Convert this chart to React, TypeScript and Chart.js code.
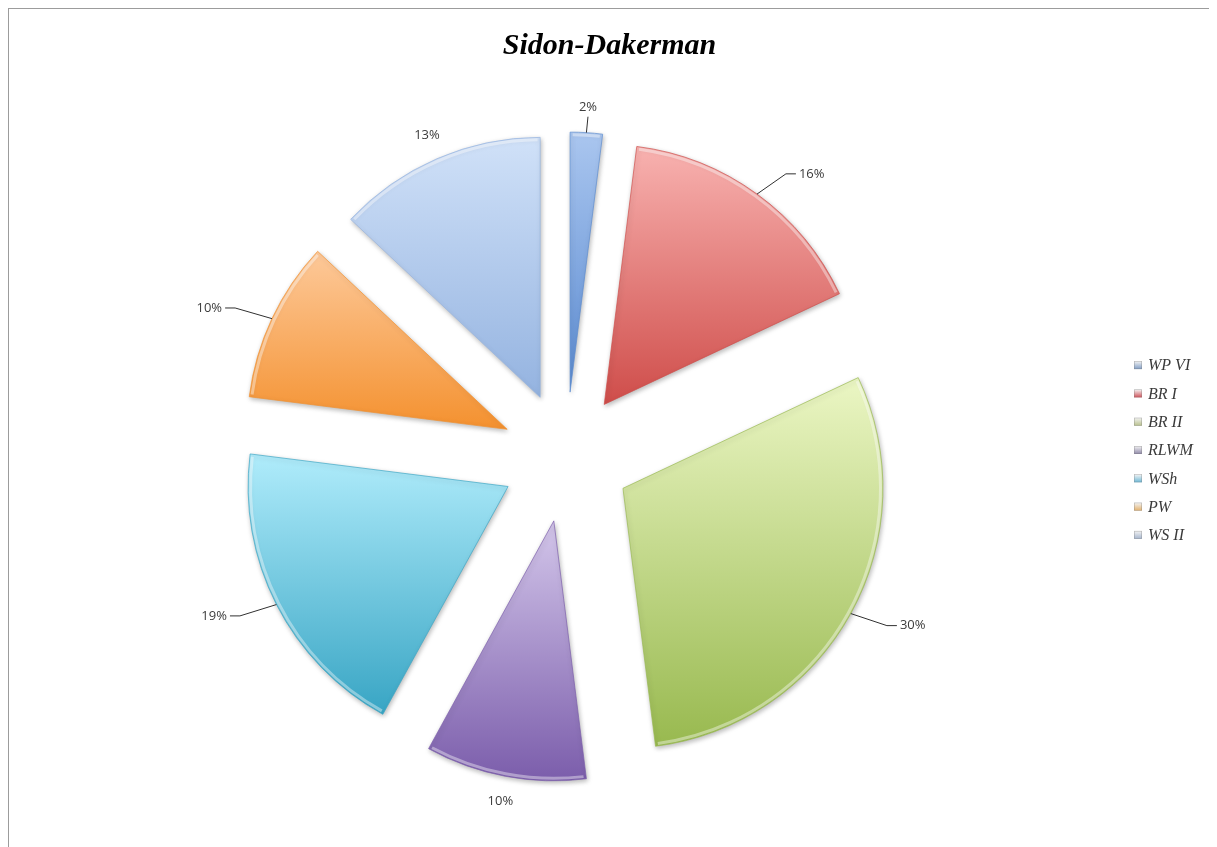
import React, { useEffect, useRef } from 'react';
import { Chart, registerables, layouts } from 'chart.js';

Chart.register(...registerables);

// ---- data ----
const chartTitle = 'Sidon-Dakerman';
const categories = ['WP VI', 'BR I', 'BR II', 'RLWM', 'WSh', 'PW', 'WS II'];
const shares = [2, 16, 30, 10, 19, 10, 13];

// ---- styles ----
const lightColors = ['#aac6ef', '#f8b2b0', '#ebf6c4', '#d3c6ea', '#b0ecfb', '#fdc99a', '#d0e1f8'];
const darkColors = ['#5b8bd1', '#cf4d4a', '#98b94f', '#7b5dab', '#38a5c4', '#f4912f', '#94b3e0'];
const legendBase = ['#7f9cc4', '#d0525a', '#b8c08c', '#8e88a8', '#6cb8d6', '#e2b06c', '#a4b4cc'];

const RADIUS = 260;
const EXPLODE = 65;
const LABEL_GAP = 25;
const SIDE_SHIFT = 40;
const LEGEND_WIDTH = 87;

function sliceGradient(chart: any, i: number) {
  const area = chart.chartArea;
  if (!area || i === undefined || i === null) return darkColors[0];
  const cy = (area.top + area.bottom) / 2;
  const total = shares.reduce((a, b) => a + b, 0);
  let acc = 0;
  for (let k = 0; k < i; k++) acc += shares[k];
  const a0 = -Math.PI / 2 + (acc / total) * 2 * Math.PI;
  const a1 = a0 + (shares[i] / total) * 2 * Math.PI;
  const ys = [cy, cy + Math.sin(a0) * RADIUS, cy + Math.sin(a1) * RADIUS];
  for (const t of [-Math.PI / 2, Math.PI / 2, (3 * Math.PI) / 2]) {
    if (t > a0 && t < a1) ys.push(cy + Math.sin(t) * RADIUS);
  }
  const g = chart.ctx.createLinearGradient(0, Math.min(...ys), 0, Math.max(...ys));
  g.addColorStop(0, lightColors[i]);
  g.addColorStop(1, darkColors[i]);
  return g;
}

// thin frame round the chart (top and left edges visible, like the source)
const framePlugin = {
  id: 'frame',
  afterDraw(chart: any) {
    const ctx = chart.ctx;
    ctx.save();
    ctx.strokeStyle = '#9c9c9c';
    ctx.lineWidth = 2;
    ctx.beginPath();
    ctx.moveTo(1, chart.height);
    ctx.lineTo(1, 1);
    ctx.lineTo(chart.width - 1, 1);
    ctx.stroke();
    ctx.strokeStyle = '#e6e6e6';
    ctx.lineWidth = 1;
    ctx.beginPath();
    ctx.moveTo(chart.width - 0.5, 2);
    ctx.lineTo(chart.width - 0.5, chart.height);
    ctx.stroke();
    ctx.restore();
  },
};

// reserve a column on the right for the legend, as a real layout box
const legendSpacePlugin = {
  id: 'legendSpace',
  beforeInit(chart: any) {
    const box: any = {
      position: 'right',
      weight: 0,
      fullSize: false,
      options: {},
      top: 0,
      left: 0,
      right: 0,
      bottom: 0,
      width: 0,
      height: 0,
      isHorizontal() {
        return false;
      },
      update(_maxWidth: number, maxHeight: number) {
        this.width = LEGEND_WIDTH;
        this.height = maxHeight;
      },
      draw() {},
    };
    layouts.addBox(chart, box);
  },
};

const explodePlugin = {
  id: 'explodePie',
  beforeDatasetsDraw(chart: any) {
    const ctx = chart.ctx;
    const meta = chart.getDatasetMeta(0);
    meta.data.forEach((arc: any) => {
      const mid = (arc.startAngle + arc.endAngle) / 2;
      ctx.save();
      ctx.translate(Math.cos(mid) * EXPLODE, Math.sin(mid) * EXPLODE);
      ctx.shadowColor = 'rgba(0,0,0,0.28)';
      ctx.shadowBlur = 5;
      ctx.shadowOffsetX = 1;
      ctx.shadowOffsetY = 2;
      arc.draw(ctx, chart.chartArea);
      ctx.shadowColor = 'transparent';
      // soft highlight along the outer rim
      ctx.beginPath();
      ctx.arc(arc.x, arc.y, RADIUS - 2.5, arc.startAngle + 0.01, arc.endAngle - 0.01);
      ctx.strokeStyle = 'rgba(255,255,255,0.4)';
      ctx.lineWidth = 3;
      ctx.stroke();
      ctx.restore();
    });
    return false;
  },
};

const labelPlugin = {
  id: 'pctLabels',
  afterDraw(chart: any) {
    const ctx = chart.ctx;
    const meta = chart.getDatasetMeta(0);
    ctx.save();
    ctx.font = '13px "Open Sans", "Liberation Sans", sans-serif';
    ctx.fillStyle = '#3c3c3c';
    ctx.strokeStyle = '#303030';
    ctx.lineWidth = 1;
    ctx.textAlign = 'center';
    ctx.textBaseline = 'middle';
    const total = shares.reduce((a, b) => a + b, 0);
    meta.data.forEach((arc: any, i: number) => {
      const mid = (arc.startAngle + arc.endAngle) / 2;
      const dx = Math.cos(mid);
      const dy = Math.sin(mid);
      const rOut = RADIUS + EXPLODE;
      const ox = arc.x + dx * rOut;
      const oy = arc.y + dy * rOut;
      let lx = arc.x + dx * (rOut + LABEL_GAP);
      const ly = arc.y + dy * (rOut + LABEL_GAP);
      const text = shares[i] + '%';
      const w = ctx.measureText(text).width;
      const side = Math.abs(dx) > 0.5;
      if (side) {
        const s = Math.sign(dx);
        lx += s * SIDE_SHIFT;
        const ex = lx - s * (w / 2 + 3);
        ctx.beginPath();
        ctx.moveTo(ox, oy);
        ctx.lineTo(ex - s * 10, ly);
        ctx.lineTo(ex, ly);
        ctx.stroke();
      } else if (shares[i] / total < 0.05) {
        ctx.beginPath();
        ctx.moveTo(ox, oy);
        ctx.lineTo(lx, ly + 9);
        ctx.stroke();
      }
      ctx.fillText(text, lx, ly);
    });
    ctx.restore();
  },
};

const legendPlugin = {
  id: 'sideLegend',
  afterDraw(chart: any) {
    const ctx = chart.ctx;
    const area = chart.chartArea;
    const boxX = area.right + 9;
    const textX = boxX + 14;
    const step = 28.3;
    const cy = (area.top + area.bottom) / 2 - 7;
    const y0 = cy - (step * (categories.length - 1)) / 2;
    ctx.save();
    ctx.font = 'italic 16px "Liberation Serif", "Times New Roman", serif';
    ctx.textAlign = 'left';
    ctx.textBaseline = 'middle';
    categories.forEach((name, i) => {
      const y = y0 + i * step;
      const g = ctx.createLinearGradient(0, y - 4, 0, y + 4);
      g.addColorStop(0, '#f4f4f4');
      g.addColorStop(1, legendBase[i]);
      ctx.fillStyle = g;
      ctx.fillRect(boxX, y - 4, 8, 8);
      ctx.strokeStyle = 'rgba(120,120,120,0.5)';
      ctx.lineWidth = 0.6;
      ctx.strokeRect(boxX + 0.3, y - 3.7, 7.4, 7.4);
      ctx.fillStyle = '#3a3a3a';
      ctx.fillText(name, textX, y + 1);
    });
    ctx.restore();
  },
};

export default function App() {
  const canvasRef = useRef<HTMLCanvasElement | null>(null);

  useEffect(() => {
    const prevOverflow = document.documentElement.style.overflow;
    document.documentElement.style.overflow = 'hidden';
    if (!canvasRef.current) return;
    const chart = new Chart(canvasRef.current, {
      type: 'pie',
      data: {
        labels: categories,
        datasets: [
          {
            data: shares,
            radius: RADIUS,
            backgroundColor: (c: any) => sliceGradient(c.chart, c.dataIndex),
            borderColor: (c: any) => (c.dataIndex !== undefined ? darkColors[c.dataIndex] + 'aa' : '#888'),
            borderWidth: 1,
          } as any,
        ],
      },
      options: {
        responsive: false,
        animation: false,
        devicePixelRatio: 1,
        events: [],
        layout: { padding: 0 },
        plugins: {
          legend: { display: false },
          tooltip: { enabled: false },
          title: {
            display: true,
            text: chartTitle,
            color: '#000000',
            font: { family: '"Liberation Serif", "Times New Roman", serif', size: 30, style: 'italic', weight: 'bold' },
            padding: { top: 21, bottom: 3 },
          },
        },
      },
      plugins: [framePlugin, legendSpacePlugin, explodePlugin, labelPlugin, legendPlugin],
    } as any);
    return () => {
      chart.destroy();
      document.documentElement.style.overflow = prevOverflow;
    };
  }, []);

  return (
    <div style={{ marginLeft: -1, marginTop: -1, width: 1205, height: 840 }}>
      <canvas ref={canvasRef} width={1205} height={840} style={{ display: 'block' }} />
    </div>
  );
}
